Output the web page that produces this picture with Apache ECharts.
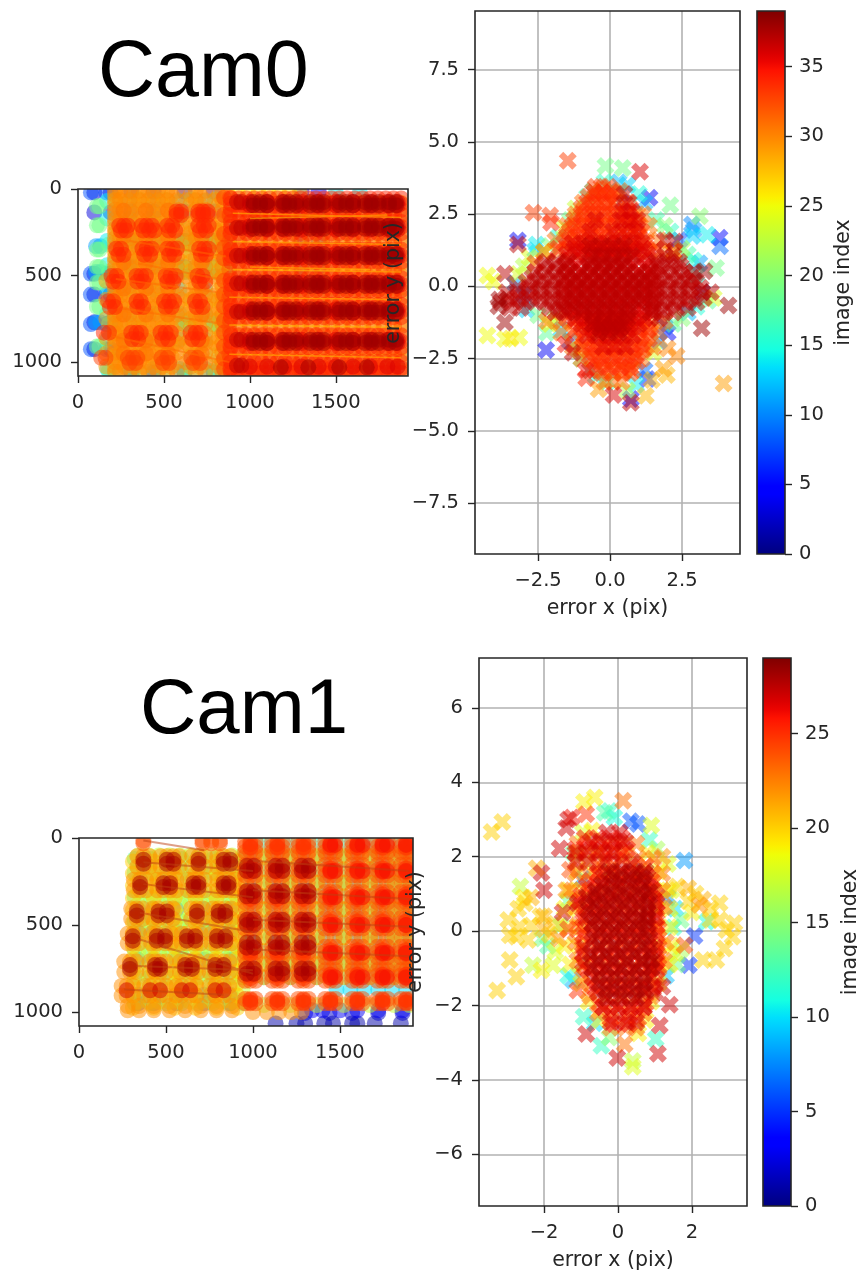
<!DOCTYPE html>
<html><head><meta charset="utf-8">
<style>html,body{margin:0;padding:0;background:#fff}#c{width:857px;height:1273px}</style>
<script src="https://cdn.jsdelivr.net/npm/echarts@6/dist/echarts.min.js"></script></head>
<body><div id="c"></div>
<script>
// ---------- tick labels ----------
const pixXTicks=[0,500,1000,1500], pixYTicks=[0,500,1000];
const errXTicks0=[-2.5,0,2.5], errYTicks0=[-7.5,-5,-2.5,0,2.5,5,7.5];
const errXTicks1=[-2,0,2], errYTicks1=[-6,-4,-2,0,2,4,6];
const cbTicks0=[0,5,10,15,20,25,30,35], cbTicks1=[0,5,10,15,20,25];
const titles=['Cam0','Cam1'];
// ---------- Cam0 image plane: layers of detected corners {i:image index, xs, ys} ----------
const cam0Corners=[
 {i:3,xs:[95,190],ys:[20,135,490,610,770,925]},
 {i:8,xs:[75,165],ys:[20,490,610,780,925]},
 {i:5,xs:[310,440,620,790,1300,1400],ys:[15,130,300,450,1060]},
 {i:11,xs:[105,130],ys:[330,480,770]},
 {i:19,xs:[110,125],ys:[100,210,350,450,540,680,910]},
 {i:14,xs:[170,300,440,590,740,880],ys:[70,170,300,440,580,720,870,1040]},
 {i:14,xs:[1500,1640],ys:[20]},
 {i:20,xs:[220,360,500,660,800],ys:[60,240,390,640,800,960,1055]},
 {i:19,xs:[610,640,780,810],ys:[300,320,460,480,760,780]},
 {i:17,xs:[180,320,620,790,880],ys:[320,480,780,1050]},
 {i:26,xs:[870,930,990,1050,1110,1170,1230,1290,1350,1410,1470,1530,1590,1650,1710,1770,1830,1880],ys:[80,150,220,290,360,430,500,570,640,710,780,850,920,990,1050]},
 {i:26,xs:[870,930,990,1050,1110,1170,1230,1290],ys:[20]},
 {i:30,xs:[215,245,300,355,410,465,520,575,685,740,840],ys:[10,65,120,175,230,285,340,395,450,505,560,615,670,725,780,835,890,945,1000,1055]},
 {i:30,xs:[630,795],ys:[65,230,285,505,615,725,890,1000]},
 {i:29,xs:[215,270,325,380,435,490,545,655,710,820],ys:[35,90,145,200,255,310,365,420,475,530,585,640,695,750,805,860,915,970,1025]},
 {i:29,xs:[165],ys:[530,640,750,860,950,1025]},
 {i:29,xs:[600,765],ys:[145,200,365,420,640,695,860,915]},
 {i:31,xs:[265,395,525,720],ys:[125,275,425,575,725,875,950]},
 {i:32,xs:[880,940,1000,1060,1120,1180,1240,1300,1360,1420,1480,1540,1600,1660,1720,1780,1840,1885],ys:[150,305,465,625,790,955]},
 // irregular orange-red corner clumps, one entry per board row
 {i:34,xs:[573,600,700,728,755],ys:[130,150]},
 {i:34,xs:[240,268,290,370,399,430,520,548,700,732,760],ys:[212]},
 {i:34,xs:[250,280,380,415,445,530,565,710,745],ys:[240]},
 {i:34,xs:[222,250,375,400,430,520,550,575,705,735,760],ys:[345]},
 {i:34,xs:[235,265,385,420,530,560,715,745],ys:[380]},
 {i:34,xs:[195,225,340,368,395,510,538,568,695,725],ys:[502]},
 {i:34,xs:[205,235,345,380,520,555,705,740],ys:[535]},
 {i:34,xs:[175,205,340,365,500,530,560,680,710],ys:[648]},
 {i:34,xs:[185,215,345,380,510,545,690,725],ys:[682]},
 {i:34,xs:[150,180,310,340,365,480,510,540,655,685,712],ys:[830]},
 {i:34,xs:[315,350,490,525,665,700],ys:[868]},
 {i:33,xs:[135,160,290,320,345,485,520,660,695],ys:[975]},
 {i:33,xs:[300,335,495,530,670,710],ys:[1005]},
 {i:33,xs:[850,885],ys:[50,150,260,340,400,530,610,680,760,830,910,980,1040]},
 {i:34,xs:[890,935,980,1025,1070,1115,1160,1205,1250,1295,1340,1385,1430,1475,1520,1565,1610,1655,1700,1745,1790,1835,1880],ys:[55,85,120,190,220,255,350,385,420,515,550,585,670,705,740,845,880,915,1000,1035,1062]},
 {i:36,xs:[1000,1100,1200,1300,1400,1500,1600,1700,1800,1860],ys:[75,95,215,235,375,395,540,560,695,715,870,890,1025]},
 {i:37,xs:[925,950],ys:[75,225,385,545,710,870,1020]},
 {i:38,xs:[1020,1060,1100,1190,1230,1270,1350,1390,1430,1520,1560,1600,1670,1710,1750,1810,1850],ys:[75,95,210,230,375,395,540,560,695,715,870,890]},
 {i:38,xs:[1180,1340,1520,1680],ys:[1030]}
];
const cam0Lines=[
 [[300,300],[860,390]],[[220,520],[850,600]],[[260,690],[840,780]],[[200,850],[880,1000]],[[350,430],[820,520]]
];
const cam0Streaks=[
 [[900,140],[1880,165]],[[900,305],[1880,320]],[[900,465],[1880,480]],[[880,625],[1880,640]],[[880,785],[1880,800]],[[880,955],[1880,975]],[[1000,170],[1800,150]],[[1000,450],[1700,465]]
];
// ---------- Cam1 image plane ----------
const cam1Corners=[
 {i:1,xs:[1130,1250,1300,1410,1460,1570,1600,1700,1850],ys:[1065]},
 {i:2,xs:[1300,1440,1570,1720,1860],ys:[1005]},
 {i:3,xs:[1340,1400,1500,1600,1720,1860],ys:[990]},
 {i:6,xs:[340,430,560,720,870],ys:[410,540,700,900,950]},
 {i:10,xs:[1000,1100,1200,1300,1400,1500,1600,1700,1800,1900],ys:[110,260,410,570,720]},
 {i:10,xs:[1480,1560,1640,1720,1800,1880],ys:[870]},
 {i:12,xs:[1062,1215,1367,1522,1672,1812],ys:[40,190,340,490,650,800]},
 {i:13,xs:[320,410,500,590,680,770,860,940],ys:[120,200,340,480,640,800,950]},
 {i:17,xs:[1062,1215,1367,1522,1672,1812,1900],ys:[110,260,410,570,720,960]},
 {i:17,xs:[340,400,460,520,580,640,700,760,820,880,940],ys:[100,170,240,310,380,450,520,590,660,730,800,870,940]},
 {i:20,xs:[310,430,550,670,790,910],ys:[135,205,275,345,415,485,555,625,695,765,835,905,975]},
 {i:21,xs:[1062,1215,1367,1522,1672,1812],ys:[100,180,255,335,410,490,570,650,725,800]},
 // orange halo round the board rows on the left part
 {i:22,xs:[335,370,405,470,505,543,575,650,687,725,795,831,870],ys:[105,165]},
 {i:22,xs:[315,351,385,450,485,524,560,625,658,687,722,795,831,860,895],ys:[240,300]},
 {i:22,xs:[300,332,365,425,457,505,540,645,678,712,770,802,841,875],ys:[405,465]},
 {i:22,xs:[280,309,345,415,447,495,530,590,620,668,700,760,793,841,875],ys:[550,605]},
 {i:22,xs:[260,293,330,405,437,466,500,580,610,649,685,750,783,831,865],ys:[710,770]},
 {i:22,xs:[245,274,310,375,409,466,500,560,591,639,675,750,783,831,865],ys:[850,905]},
 {i:22,xs:[280,345,430,520,610,700,790,880],ys:[965,990]},
 {i:22,xs:[1000,1080,1150,1220,1280],ys:[1000]},
 {i:23,xs:[960,1010,1115,1165,1265,1315,1420,1470,1575,1625,1720,1770,1855,1905],ys:[100,255,410,570,725]},
 {i:24,xs:[955,985,1015,1110,1140,1170,1260,1290,1320,1415,1445,1475,1570,1600,1630,1715,1745,1775,1850,1880,1910],ys:[20,50,80,155,185,215,310,340,370,460,490,520,625,655,685,760,790,820,925,950]},
 {i:24,xs:[370,710,760,810],ys:[15,30]},
 {i:25,xs:[985,1140,1290,1445,1600,1745,1880],ys:[35,55,175,195,325,350,480,500,645,665,785,805,930,945]},
 {i:26,xs:[1445,1470,1600,1630,1745,1770,1880],ys:[40,190,340,500,660,800]},
 // darkest image: board corners, row by row
 {i:28,xs:[370,505,543,687,831,870],ys:[125,148]},
 {i:28,xs:[351,485,524,658,687,831,860],ys:[260,282]},
 {i:28,xs:[332,457,505,678,802,841],ys:[422,445]},
 {i:28,xs:[309,447,495,620,668,793,841],ys:[565,590]},
 {i:28,xs:[293,437,466,610,649,783,831],ys:[730,752]},
 {i:27,xs:[274,409,466,591,639,783,831],ys:[875]},
 {i:28,xs:[965,1005,1130,1170,1280,1320],ys:[160,190,305,335,470,500,600,630,750,780]}
];
const cam1Lines=[
 [[370,15],[720,70]],[[370,140],[1000,190]],[[370,265],[1000,340]],[[350,430],[1000,540]],[[340,580],[1000,780]],
 [[330,735],[1000,760]],[[260,870],[830,900]],[[1000,130],[1900,190]],[[1000,300],[1900,350]],[[1000,470],[1900,510]],[[1000,640],[1900,680]]
];
// ---------- Cam0 reprojection errors [x,y,image index] ----------
const cam0Sparse=[[-1.47,4.35,33],[-.16,4.17,19],[.44,4.1,19],[1.04,3.97,36],[1.37,3.07,4],[2.09,2.81,19],[-2.66,2.55,33],[-2.08,2.45,33],[-2.05,2.2,34],[3.12,2.43,20],[2.84,2.14,10],[2.9,1.95,11],[2.86,1.74,13],[3.38,1.79,14],[3.8,1.68,5],[3.82,1.39,9],[-3.2,1.59,4],[-3.2,1.45,37],[-2.55,1.45,14],[-2.6,1.25,13],[-4.26,.38,25],[-4.05,.17,25],[-3.65,.44,37],[-3.2,.43,24],[3.68,.64,19],[3.28,.52,38],[4.11,-.66,38],[3.18,-1.45,38],[2.31,-2.41,30],[2.0,-2.15,30],[3.94,-3.36,29],[-4.26,-1.7,25],[-3.65,-1.82,25],[-3.45,-1.8,26],[-3.15,-1.77,25],[-3.65,-1.25,38],[-3.88,-.69,38],[-3.85,-.45,38],[-2.22,-2.2,4],[.72,-4.03,37],[.72,-3.9,5],[.12,-3.76,36],[-.4,-3.56,29],[-.83,-3.18,34],[-.85,-2.9,35],[1.24,-3.78,28],[1.45,-3.24,28],[1.97,-3.07,28],[1.85,-2.85,29],
 [1.2,2.9,12],[1.0,3.2,15],[.6,3.5,13],[1.6,2.3,17],[1.9,2.1,20],[2.1,1.9,16],[2.4,1.6,8],[2.5,1.3,22],[2.7,1.1,17],[2.9,.9,15],[3.1,.8,11],[3.0,.4,15],[3.2,-.2,9],[3.6,-.4,24],[3.4,-.5,18],[3.0,-.7,15],[2.7,-.9,12],[2.5,-1.1,20],[2.2,-1.3,18],[2.0,-1.6,5],[1.9,-1.4,8],[1.7,-1.9,10],[1.5,-2.3,24],[1.2,-2.9,9],[1.3,-3.2,6],[.9,-3.4,14],[.6,-3.6,22],[-.1,-3.3,17],[-.5,-3.1,15],[-.7,-2.9,8],[-1,-2.5,18],[-1.1,-2.2,24],[-1.4,-1.9,10],[-1.7,-1.5,13],[-1.9,-1.1,20],[-2.1,-1.3,25],[-2.2,-1.6,18],[-2.5,-1.0,19],[-2.9,-.8,13],[-3,-.3,9],[-3.3,.1,11],[-3.0,.7,22],[-2.8,1.0,24],[-2.6,.8,33],[-2.3,1.2,25],[-2.1,1.4,20],[-1.8,1.7,15],[-1.6,2.0,24],[-1.4,2.3,19],[-1.2,2.7,23],[-.8,3.1,17],[-.6,3.3,14],[-.2,3.6,16],[.3,3.6,12],[.5,3.2,37],[.4,2.9,5],[2.25,1.55,37],[1.9,1.6,37],[2.2,1.2,30],[-1.55,-2.0,35],[-1.3,-2.3,37]
];
const cam0Rows=[
 {i:31,rows:[[3.3,[-.6,-.3,.1,.35]],[2.9,[-.95,-.6,-.2,.2,.6]],[2.5,[-1.2,-.8,-.4,.05,.5,.95,1.15]],[2.1,[-1.5,-1.1,-.7,-.3,.15,.6,1,1.35]],[1.6,[-1.9,-1.45,-1,-.55,-.1,.35,.8,1.25,1.7]],[1.2,[-2.3,-1.8,-1.35,-.9,-.45,0,.45,.9,1.35,1.8,2.2]],[-1.2,[-2.2,-1.7,-1.25,-.8,-.35,.1,.55,1,1.45,1.9]],[-1.6,[-1.7,-1.3,-.85,-.4,.05,.5,.95,1.4,1.7]],[-2.1,[-1.3,-.95,-.5,-.05,.4,.85,1.25,1.5]],[-2.5,[-1,-.6,-.2,.25,.7,1.1]],[-2.9,[-.7,-.3,.1,.5,.8]],[-3.3,[-.2,.1,.4]]]},
 {i:33,rows:[[3.45,[-.5,-.3,-.05]],[3.1,[-.75,-.45,-.1,.2]],[2.7,[-1,-.6,-.2,.25,.7]],[2.3,[-1.25,-.85,-.4,.05,.5,.8]],[1.9,[-1.4,-1,-.6,-.15,.35,.8,1.1]],[1.5,[-1.6,-1.2,-.8,-.4,0,.4,.85,1.25]],[-1.4,[-1,-.65,-.25,.15,.55,1,1.4]],[-1.8,[-.95,-.55,-.15,.25,.65,1.05,1.35]],[-2.2,[-.75,-.4,0,.4,.8,1.15]],[-2.6,[-.55,-.2,.2,.6,.95]],[-3,[-.3,.1,.45,.7]]]},
 {i:34,rows:[[3.25,[-.55,-.25,.05]],[2.9,[-.8,-.4,0]],[2.5,[-1,-.6,-.2,.2,.6]],[2.1,[-1.3,-.9,-.5,-.1,.3,.7,.95]],[1.7,[-1.5,-1.1,-.7,-.3,.15,.6,1]],[1.3,[-1.8,-1.4,-1,-.6,-.2,.25,.7,1.15,1.6]],[-1.1,[-1.5,-1.05,-.6,-.15,.3,.75,1.2]],[-1.5,[-1.2,-.8,-.4,.05,.5,.95,1.3]],[-2,[-.9,-.5,-.1,.3,.75,1.1]],[-2.4,[-.7,-.3,.1,.5,.9]],[-2.8,[-.45,-.05,.35,.7]]]},
 {i:36,rows:[[2.9,[.65]],[2.6,[.45,.75]],[2.3,[-.5,.35,.7,.95]],[1.9,[-.7,.1,.5,.9]],[1.5,[-1.3,-.9,-.5,-.1,.3,.7,1.1]],[1.1,[-1.5,-1.1,-.7,-.3,.1,.5,.9,1.3]],[.7,[-1.6,-1.2,-.8,-.4,0,.4,.8,1.2,1.5]],[.3,[-1.6,-1.2,-.8,-.4,0,.4,.8,1.2,1.5]],[-.1,[-1.6,-1.2,-.8,-.4,0,.4,.8,1.2,1.5]],[-.5,[-1.6,-1.2,-.8,-.4,0,.4,.8,1.2,1.5]],[-.9,[-1.6,-1.2,-.8,-.4,0,.4,.8,1.2,1.5]],[-1.3,[-1,-.6,-.2,.2,.6,1]],[-1.7,[-.8,-.4,0,.4,.8]],[-2.1,[-.25,.15,.55]]]},
 {i:36,rows:[[1.3,[-1.25,-.85,-.45,-.05,.35,.75,1.15]],[.9,[-1.4,-1,-.6,-.2,.2,.6,1,1.4]],[.5,[-1.4,-1,-.6,-.2,.2,.6,1,1.4]],[.1,[-1.4,-1,-.6,-.2,.2,.6,1,1.4]],[-.3,[-1.4,-1,-.6,-.2,.2,.6,1,1.4]],[-.7,[-1.4,-1,-.6,-.2,.2,.6,1,1.4]],[-1.1,[-1.2,-.8,-.4,0,.4,.8,1.2]],[-1.5,[-.6,-.2,.2,.6]]]},
 {i:37,rows:[[1.4,[-.7,-.3,.1,.5]],[1.05,[-.55,-.15,.3,.75,1.9,2.2]],[.85,[-2.2,-1.85,-1.45,-.7,-.3,.1,.5,1.6,2,2.4]],[.5,[-2.6,-2.2,-1.8,-1.4,-1,-.6,-.2,.2,.6,1,1.4,1.8,2.2,2.6,2.9]],[.15,[-2.9,-2.5,-2.1,-1.7,-1.3,-.9,-.5,-.1,.3,.7,1.1,1.5,1.9,2.3,2.7,3]],[-.2,[-3.6,-3.2,-2.8,-2.4,-2,-1.6,-1.2,-.8,-.4,0,.4,.8,1.2,1.6,2,2.4,2.8,3.2,3.5]],[-.55,[-3.8,-3.4,-3,-2.6,-2.2,-1.8,-1.4,-1,-.6,-.2,.2,.6,1,1.4,1.8,2.2,2.6,3]],[-.9,[-1.9,-1.5,-1,-.6,-.2,.2,.6,1.4,1.8,2.2]],[-1.3,[-.6,-.25,.1,.45]],[-1.6,[-.4,-.1,.3]]]},
 {i:37,rows:[[.7,[-2.35,-1.95,-1.55,-.75,-.35,.05,.45,1.65,2.05,2.45]],[.3,[-2.7,-2.3,-1.9,-1.5,-1.1,-.7,-.3,.1,.5,.9,1.3,1.7,2.1,2.5,2.85]],[-.05,[-3.2,-2.8,-2.4,-2,-1.6,-1.2,-.8,-.4,0,.4,.8,1.2,1.6,2,2.4,2.8,3.15]],[-.4,[-3.6,-3.2,-2.8,-2.4,-2,-1.6,-1.2,-.8,-.4,0,.4,.8,1.2,1.6,2,2.4,2.8,3.25]],[-.75,[-3.5,-3.1,-2.1,-1.7,-1.3,-.9,-.5,-.1,.3,.7,1.5,1.9,2.3,2.7]],[-1.1,[-.6,-.2,.2,.6,1.7]],[-1.45,[-.35,0,.35]]]}
];
// ---------- Cam1 reprojection errors ----------
const cam1Sparse=[[-3.42,2.66,20],[-3.13,2.93,20],[-.92,3.47,19],[-.63,3.59,19],[.14,3.5,23],[-1.35,3,27],[-1.4,2.77,27],[-1.25,3.05,26],[-1.58,2.22,27],[-.86,3.14,25],[-.23,3.23,12],[-.36,3.18,13],[-.1,3.05,11],[.35,2.95,6],[.54,2.88,6],[.9,2.84,18],[-.95,2.65,18],[-.7,2.7,19],[1.8,1.9,8],[-2.07,1.56,27],[-2.2,1.69,21],[-2,1.1,27],[-2.64,1.2,17],[-2.55,.9,19],[-2.52,.75,20],[-2.35,.9,21],[-2.7,.6,20],[-2.97,.3,20],[-2.66,.12,20],[-2.93,-.11,20],[-2.43,-.24,20],[-2.75,-.15,20],[-2.93,-.78,20],[-2.75,-1.23,20],[-3.27,-1.6,20],[-2.3,-.92,17],[-2.07,-1.05,19],[-1.76,-.92,18],[2.75,.75,20],[3.15,.21,20],[2.93,.03,20],[3.1,-.15,20],[2.88,-.47,20],[2.3,-.78,20],[2.66,-.78,20],[2.4,.25,11],[2.07,-.13,5],[1.8,-.38,24],[1.92,-.92,5],[1.4,-1.98,27],[1.13,-2.54,27],[1.02,-2.9,12],[1.08,-3.3,27],[.4,-3.49,17],[.4,-3.65,18],[-.02,-3.41,27],[.18,-3.04,23],[-.45,-3.08,12],[-.86,-2.77,27],[-.93,-2.3,12],[-.63,-2.48,10],[-.23,-2.86,15],[-1.22,-1.32,9],[-1.35,-1.2,11],[-1.1,-1.6,25],[.55,-2.75,19],
 [-2.35,.15,20],[-2,.05,21],[-1.85,-.1,20],[-1.7,.2,20],[-2,.4,21],[-1.6,-.2,22],[-1.9,-.4,13],[-2.05,-.2,14],[-1.7,-.55,18],[-1.5,.5,27],[-1.55,.15,15],[-2.1,.4,20],[-1.4,1.1,22],[-1.35,.8,14],[-1.3,1.65,24],[-1.2,2.1,14],[-.95,1.4,8],[1.6,1.2,20],[1.9,1.15,21],[2.1,1,20],[2.3,.85,21],[2.5,.6,20],[2.2,.7,22],[1.9,.8,20],[2,.5,19],[2.5,.3,20],[2.75,.3,20],[1.35,.9,8],[1.55,.6,10],[1.7,.3,14],[1.5,.1,12],[1.7,-.5,16],[1.6,-.9,14],[1.35,1.8,18],[1.05,2.2,16],[1.2,2,22],[.85,2.45,12],[1.45,1.1,18],[1.55,-.6,18],[1.3,-1.2,9],[1.2,-1.5,27]
];
const cam1Rows=[
 {i:19,rows:[[2.1,[-1.1,-.6,.2,.8]],[1.6,[-1.1,-.65,-.2,.6,1.1]],[1.1,[-1.35,-1,1,1.35]],[.6,[-1.45,-1.1,1.05,1.4]],[.1,[-1.35,-1,1.05,1.4]],[-.4,[-1.45,-1.05,1.1,1.45]],[-.9,[-1.3,-.95,1.1,1.4]],[-1.4,[-1,1.1]],[-1.9,[-.8,.9]],[-2.4,[-.5,.75]]]},
 {i:23,rows:[[2.35,[-1.1,-.7,-.3,.1,.5]],[1.95,[-1.1,-.75,-.35,.1,.55,.95]],[1.55,[-1.15,-.8,-.4,.05,.5,.95,1.2]],[1.1,[-1.25,-.85,-.45,0,.45,.9,1.2]],[.65,[-1.15,-.8,-.35,.1,.55,1,1.25]],[.15,[-1.1,-.75,-.3,.15,.6,1.05]],[-.3,[-1.15,-.8,-.35,.1,.55,1,1.3]],[-.8,[-1.1,-.75,-.3,.15,.6,1.05,1.25]],[-1.25,[-.95,-.55,-.1,.35,.8,1.1]],[-1.75,[-.75,-.35,.1,.55,.9]],[-2.2,[-.55,-.15,.3,.7]],[-2.6,[-.2,.2,.5]]]},
 {i:25,rows:[[2.1,[-.3,.1]],[1.75,[-.5,-.1,.35,.75]],[1.35,[-.75,-.35,.1,.55,.9]],[.95,[-1,-.6,-.15,.3,.75,1.05]],[.5,[-.95,-.55,-.1,.35,.8,1.05]],[.05,[-1.35,-.9,-.45,0,.45,.9,1.1]],[-.45,[-.95,-.5,-.05,.4,.85,1.1]],[-.95,[-.9,-.45,0,.45,.9,1.1]],[-1.45,[-.7,-.25,.2,.65,1]],[-1.95,[-.5,-.1,.35,.75]],[-2.35,[-.2,.25,.55]]]},
 {i:26,rows:[[2.5,[-.9,-.55,-.2,.1]],[2.2,[-1.15,-.8,-.45,-.1,.25]],[1.55,[-.55,-.15,.3,.7]],[1.2,[-.85,-.45,0,.45,.85]],[.8,[-1.05,-.65,-.25,.2,.6,1]],[.35,[-.95,-.55,-.15,.25,.65,1.05]],[-.1,[-.95,-.55,-.15,.25,.65,1.05]],[-.6,[-.95,-.55,-.15,.25,.65,1.05]],[-1.05,[-.8,-.4,0,.4,.8,1.05]],[-1.55,[-.6,-.2,.2,.6,.95]],[-2.05,[-.4,0,.35,.7]],[-2.5,[-.1,.3]]]},
 {i:27,rows:[[2.65,[-.3,.05]],[2.4,[-.75,-.45,-.1,.2]],[2.1,[-1.15,-.85,-.5,-.15]],[1.85,[-1.15,-.8,-.35,.05,.4]],[1.45,[-.4,0,.4,.8]],[1.1,[-.6,-.2,.2,.6,.95]],[.75,[-1.1,-.75,-.4,0,.4,.8,1.05]],[.35,[-.85,-.45,-.05,.35,.75,1]],[-.05,[-.7,-.3,.1,.5,.85]],[-.45,[-.9,-.5,-.1,.3,.7,1]],[-.85,[-.95,-.55,-.15,.25,.65,1]],[-1.25,[-.7,-.3,.1,.5,.9]],[-1.65,[-.55,-.15,.25,.65,1]],[-2.05,[-.4,0,.35,.7]],[-2.45,[-.2,.2,.5]]]},
 {i:28,rows:[[1.6,[-.25,.1,.45,.75]],[1.25,[-.45,-.1,.3,.7]],[.9,[-.85,-.5,-.1,.3,.7]],[.55,[-.8,-.4,0,.4,.8]],[.2,[-.7,-.3,.1,.5,.8]],[-.2,[-.65,-.25,.15,.55,.85]],[-.6,[-.75,-.35,.05,.45,.85]],[-1,[-.7,-.3,.1,.5,.9]],[-1.4,[-.5,-.1,.3,.7]],[-1.8,[-.3,.1,.5]]]},
 {i:28,rows:[[1.45,[-.1,.3,.65]],[1.05,[-.6,-.2,.2,.6,.85]],[.7,[-.65,-.25,.15,.55,.85]],[.35,[-.6,-.2,.2,.6,.8]],[0,[-.5,-.1,.3,.7]],[-.4,[-.5,-.1,.3,.7]],[-.8,[-.55,-.15,.25,.65,.9]],[-1.2,[-.5,-.1,.3,.7]],[-1.6,[-.35,.05,.45,.75]]]}
];
// ---------- jet colormap (colour scale only) ----------
function seg(p,t){for(let k=1;k<p.length;k++)if(t<=p[k][0]){const a=p[k-1],b=p[k];return a[1]+(b[1]-a[1])*(t-a[0])/(b[0]-a[0]);}return p[p.length-1][1];}
const jetR=[[0,0],[.35,0],[.66,1],[.89,1],[1,.5]],jetG=[[0,0],[.125,0],[.375,1],[.64,1],[.91,0],[1,0]],jetB=[[0,.5],[.11,1],[.34,1],[.65,0],[1,0]];
const jet=[];for(let k=0;k<=64;k++){const t=k/64;jet.push('rgb('+[jetR,jetG,jetB].map(p=>Math.round(seg(p,t)*255)).join(',')+')');}
// ---------- builders ----------
const gridPts=L=>{const o=[];L.forEach(l=>l.ys.forEach(y=>l.xs.forEach(x=>o.push([x,y,l.i]))));return o;};
const rowPts=L=>{const o=[];L.forEach(l=>l.rows.forEach(r=>r[1].forEach(x=>o.push([x,r[0],l.i]))));return o;};
const byIdx=a=>a.map((p,k)=>[p,k]).sort((p,q)=>p[0][2]-q[0][2]||p[1]-q[1]).map(p=>p[0]);
const segData=L=>{const o=[];L.forEach(s=>{o.push(s[0],s[1],['-','-']);});return o;};
const X='path://M-1,-.5L-.5,-1L0,-.5L.5,-1L1,-.5L.5,0L1,.5L.5,1L0,.5L-.5,1L-1,.5L-.5,0Z';
const INK='#262626',FONT='"DejaVu Sans"';
const minus=v=>String(v).replace('-','\u2212');
const fix1=v=>v.toFixed(1).replace('-','\u2212');
function ax(extra,vals,fmt,margin){return Object.assign({type:'value',scale:true,
 axisLine:{show:false,onZero:false},
 axisTick:{show:true,customValues:vals,length:7,inside:false,lineStyle:{color:INK,width:1.4}},
 axisLabel:{show:true,customValues:vals,formatter:fmt,color:INK,fontFamily:FONT,fontSize:19.5,margin:margin,hideOverlap:false,showMinLabel:true,showMaxLabel:true},
 splitLine:{show:false},nameTextStyle:{color:INK,fontFamily:FONT,fontSize:20.5},nameLocation:'middle'},extra);}
const gl={show:true,lineStyle:{color:'#b2b2b2',width:1.6}};
const gridStyle={show:true,borderColor:INK,borderWidth:1.6,z:6,backgroundColor:'transparent',outerBoundsMode:'none'};
const G=[
 {left:78,top:189,width:330,height:187},{left:475,top:11,width:265,height:543},{left:757,top:11,width:28,height:543},
 {left:79,top:838,width:334,height:188},{left:479,top:658,width:268,height:548},{left:763,top:658,width:28,height:548}
].map(g=>Object.assign({},gridStyle,g));
const xA=[],yA=[];
xA.push(ax({gridIndex:0,min:0,max:1920,z:7},pixXTicks,minus,17));
yA.push(ax({gridIndex:0,min:0,max:1080,inverse:true,z:7},pixYTicks,minus,16));
xA.push(ax({gridIndex:1,min:-4.69,max:4.51,name:'error x (pix)',nameGap:44,nameMoveOverlap:false,splitLine:gl},errXTicks0,fix1,17));
yA.push(ax({gridIndex:1,min:-9.26,max:9.53,splitLine:gl},errYTicks0,fix1,16));
xA.push({type:'category',gridIndex:2,data:['c'],axisLine:{show:false,onZero:false},axisTick:{show:false},axisLabel:{show:false}});
yA.push(ax({gridIndex:2,min:0,max:39,position:'right',name:'image index',nameRotate:90,nameGap:48,nameMoveOverlap:false},cbTicks0,minus,14));
xA.push(ax({gridIndex:3,min:0,max:1920,z:7},pixXTicks,minus,17));
yA.push(ax({gridIndex:3,min:0,max:1080,inverse:true,z:7},pixYTicks,minus,16));
xA.push(ax({gridIndex:4,min:-3.76,max:3.49,name:'error x (pix)',nameGap:44,nameMoveOverlap:false,splitLine:gl},errXTicks1,minus,17));
yA.push(ax({gridIndex:4,min:-7.39,max:7.34,splitLine:gl},errYTicks1,minus,16));
xA.push({type:'category',gridIndex:5,data:['c'],axisLine:{show:false,onZero:false},axisTick:{show:false},axisLabel:{show:false}});
yA.push(ax({gridIndex:5,min:0,max:29,position:'right',name:'image index',nameRotate:90,nameGap:49,nameMoveOverlap:false},cbTicks1,minus,14));

const grad=()=>new echarts.graphic.LinearGradient(0,1,0,0,jet.map((c,k)=>({offset:k/64,color:c})));
const line=(idx,L,col,w,op)=>({type:'line',xAxisIndex:idx,yAxisIndex:idx,data:segData(L),symbol:'none',connectNulls:false,silent:true,z:4,animation:false,
 lineStyle:{color:col,width:w,opacity:op}});
const pts=(idx,data,sym,size)=>({type:'scatter',xAxisIndex:idx,yAxisIndex:idx,data:data,symbol:sym,symbolSize:size,silent:true,z:3,clip:true,
 animation:false,progressive:0,large:false,itemStyle:{opacity:.5,borderWidth:0}});
const bar=(idx,max)=>({type:'bar',xAxisIndex:idx,yAxisIndex:idx,data:[max],barWidth:'100%',silent:true,z:3,animation:false,itemStyle:{color:grad()}});
const series=[
 line(0,cam0Lines,'#ff6a00',2,.5),
 pts(0,byIdx(gridPts(cam0Corners)),'circle',16),
 pts(1,byIdx(cam0Sparse.concat(rowPts(cam0Rows))),X,18),
 bar(2,39),
 line(3,cam1Lines,'#c0400f',2,.5),
 pts(3,byIdx(gridPts(cam1Corners)),'circle',16),
 pts(4,byIdx(cam1Sparse.concat(rowPts(cam1Rows))),X,18),
 bar(5,29),
 line(0,cam0Streaks,'#ffb000',1.5,.6)
];
const vm=(ser,max)=>({type:'continuous',show:false,seriesIndex:ser,dimension:2,min:0,max:max,inRange:{color:jet}});
// white mask round each image-plane panel: markers are cut at the panel frame
const mask=(g,l,t,r,b)=>[[g.left-l,g.top-t,g.width+l+r,t],[g.left-l,g.top+g.height,g.width+l+r,b],[g.left-l,g.top,l,g.height],[g.left+g.width,g.top,r,g.height]]
 .map(s=>({type:'rect',z:5,silent:true,shape:{x:s[0],y:s[1],width:s[2],height:s[3]},style:{fill:'#fff'}}));
// the error-panel y labels sit on top of the image-plane panels, so they are placed above them
const yName=(x,y)=>({type:'text',z:8,silent:true,x:x,y:y,rotation:Math.PI/2,style:{text:'error y (pix)',fill:INK,font:'20.5px "DejaVu Sans"',align:'center',verticalAlign:'middle'}});
const chart=echarts.init(document.getElementById('c'),null,{renderer:'canvas'});
chart.setOption({animation:false,backgroundColor:'#fff',
 title:[
  {text:titles[0],left:93,top:30,textStyle:{fontFamily:'"Liberation Sans"',fontSize:79,fontWeight:'normal',color:'#000'}},
  {text:titles[1],left:135,top:667,textStyle:{fontFamily:'"Liberation Sans"',fontSize:78,fontWeight:'normal',color:'#000'}}
 ],
 grid:G,xAxis:xA,yAxis:yA,series:series,
 graphic:{elements:mask(G[0],10,10,3,10).concat(mask(G[3],10,10,9,10),[yName(394,283),yName(416,932)])},
 visualMap:[vm([1,2],39),vm([5,6],29)]
});
</script></body></html>
